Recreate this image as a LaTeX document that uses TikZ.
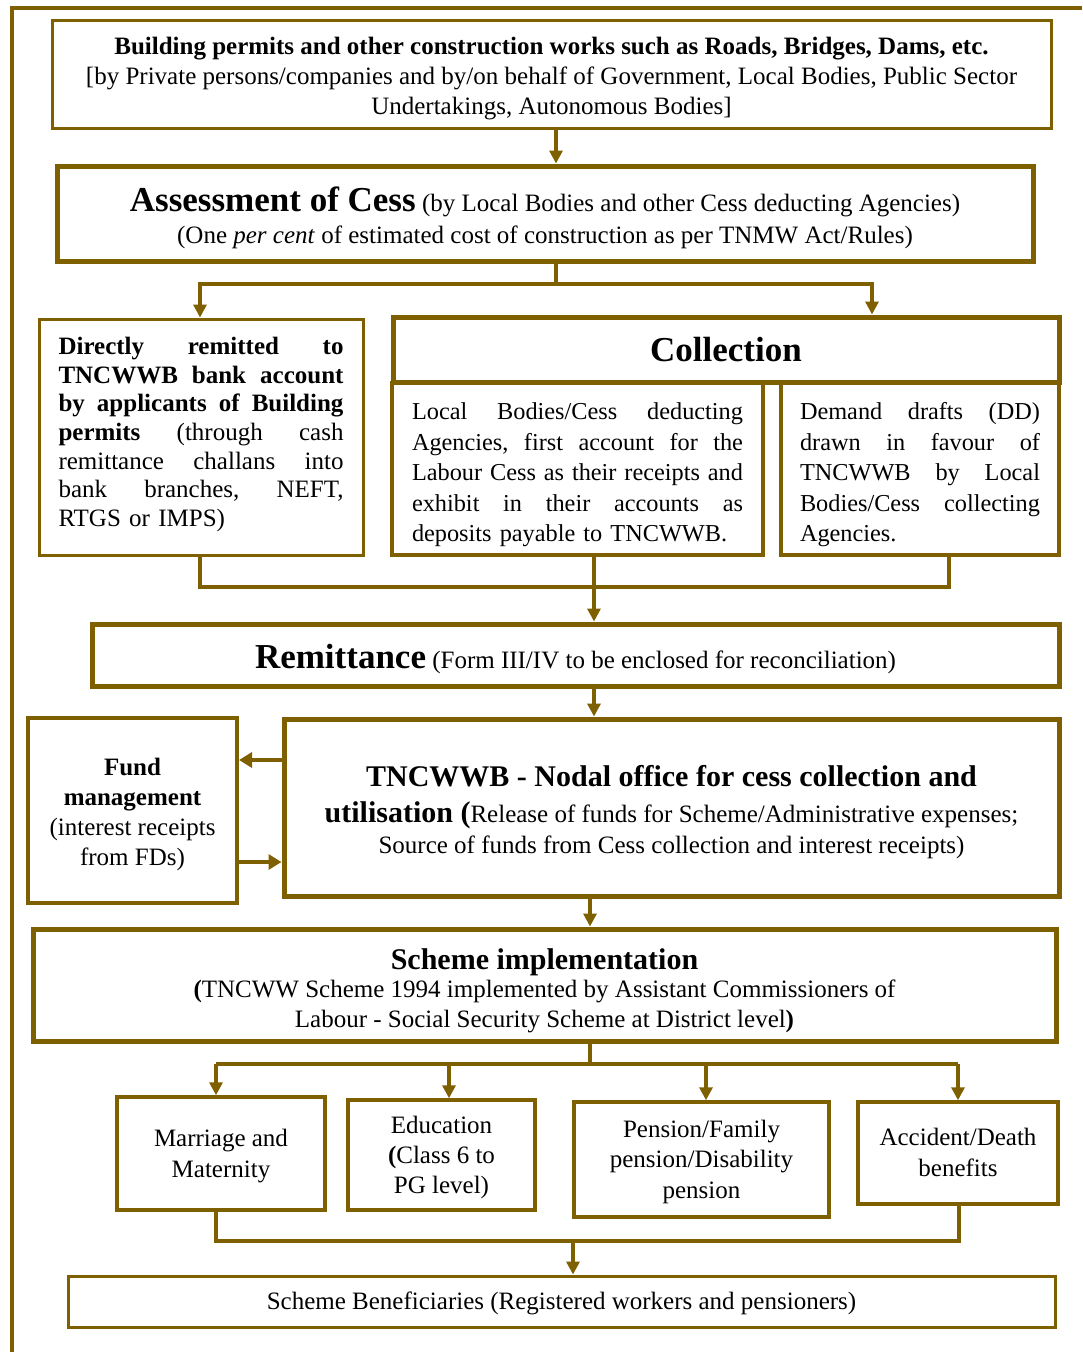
\documentclass[tikz,border=0pt]{standalone}
\usepackage{fontspec}
\setmainfont{Liberation Serif}
\usetikzlibrary{arrows.meta}
\definecolor{fc}{RGB}{127,96,0}
\newcommand{\jl}[2]{\leavevmode\hbox to #1{\frenchspacing\spaceskip=.25em plus 1fil minus .1em\relax #2}}
\tikzset{
  box/.style={draw=fc, fill=white, line width=3.5pt, inner sep=0pt},
  tbox/.style={box, line width=5pt},
  txt/.style={inner sep=0pt, align=center, font=\fontsize{25}{30}\selectfont},
  conn/.style={draw=fc, line width=4pt},
  arr/.style={conn, -{Triangle[width=13pt,length=13pt]}},
  farr/.style={conn, line width=4.5pt, -{Triangle[width=15pt,length=13pt]}},
}
\begin{document}
\begin{tikzpicture}[x=1pt,y=-1pt]
\useasboundingbox[fill=white] (0,0) rectangle (1082,1352);
% outer frame
\draw[conn] (12,1352) -- (12,8) -- (1082,8);

% boxes
\node[box, line width=3pt, minimum width=999pt, minimum height=108pt] (b1) at (551.5,74) {};
\node[txt] (t1) at ([yshift=-5pt]b1.center)
 {{\bfseries Building permits and other construction works such as Roads, Bridges, Dams, etc.}\\
  {[}by Private persons/companies and by/on behalf of Government, Local Bodies, Public Sector\\
  Undertakings, Autonomous Bodies{]}};

\node[tbox, minimum width=976pt, minimum height=95pt] (b2) at (545,213.5) {};
\node[txt, font=\fontsize{25}{32}\selectfont] (t2) at ([yshift=-4.5pt]b2.center)
 {{\fontsize{35}{32}\selectfont\bfseries Assessment of Cess} (by Local Bodies and other Cess deducting Agencies)\\
  (One \textit{per cent} of estimated cost of construction as per TNMW Act/Rules)};

\node[box, line width=3pt, minimum width=324pt, minimum height=236pt] (dir) at (201,437) {};
\node[txt, text width=285pt, align=left, font=\fontsize{25}{28.7}\selectfont] (tdir) at ([yshift=2.5pt]dir.center)
 {\bfseries\jl{285pt}{Directly remitted to}\\
  \jl{285pt}{TNCWWB bank account}\\
  \jl{285pt}{by applicants of Building}\\
  \jl{285pt}{permits \mdseries (through cash}\\
  \mdseries\jl{285pt}{remittance challans into}\\
  \jl{285pt}{bank branches, NEFT,}\\
  RTGS or IMPS)};

\node[tbox, minimum width=666pt, minimum height=65pt] (coll) at (726,349.5) {};
\node[txt, font=\fontsize{35}{36}\selectfont\bfseries] (tcoll) at (coll.center) {Collection};

\node[box, minimum width=371pt, minimum height=172pt] (loc) at (577.5,469) {};
\node[txt, text width=331pt, align=left, font=\fontsize{24.3}{30.5}\selectfont] (tloc) at ([yshift=-6pt]loc.center)
 {\jl{331pt}{Local Bodies/Cess deducting}\\
  \jl{331pt}{Agencies, first account for the}\\
  \jl{331pt}{Labour Cess as their receipts and}\\
  \jl{331pt}{exhibit in their accounts as}\\
  deposits payable to TNCWWB.};

\node[box, minimum width=278pt, minimum height=172pt] (dd) at (920,469) {};
\node[txt, text width=240pt, align=left, font=\fontsize{24.3}{30.5}\selectfont] (tdd) at ([yshift=-6pt]dd.center)
 {\jl{240pt}{Demand drafts (DD)}\\
  \jl{240pt}{drawn in favour of}\\
  \jl{240pt}{TNCWWB by Local}\\
  \jl{240pt}{Bodies/Cess collecting}\\
  Agencies.};

\node[tbox, minimum width=967pt, minimum height=62pt] (rem) at (575.5,655) {};
\node[txt] (trem) at ([yshift=-4pt]rem.center)
 {{\fontsize{35}{32}\selectfont\bfseries Remittance} (Form III/IV to be enclosed for reconciliation)};

\node[box, line width=4pt, minimum width=209pt, minimum height=185pt] (fund) at (132.5,810.5) {};
\node[txt] (tfund) at ([yshift=-3.5pt]fund.center)
 {{\bfseries Fund}\\ {\bfseries management}\\ (interest receipts\\ from FDs)};

\node[tbox, minimum width=775pt, minimum height=177pt] (nod) at (671.5,807.5) {};
\node[txt, font=\fontsize{25}{31}\selectfont] (tnod) at ([yshift=-4.5pt]nod.center)
 {{\fontsize{30}{31}\selectfont\bfseries TNCWWB - Nodal office for cess collection and}\\[5pt]
  {\fontsize{30}{31}\selectfont\bfseries utilisation (}Release of funds for Scheme/Administrative expenses;\\
  Source of funds from Cess collection and interest receipts)};

\node[tbox, minimum width=1023pt, minimum height=112pt] (sch) at (544.5,985) {};
\node[txt] (tsch) at ([yshift=-6pt]sch.center)
 {{\fontsize{30}{30}\selectfont\bfseries Scheme implementation}\\[-2pt]
  {\bfseries(}TNCWW Scheme 1994 implemented by Assistant Commissioners of\\
  Labour - Social Security Scheme at District level{\bfseries)}};

\node[box, minimum width=208pt, minimum height=113pt] (mar) at (221,1153.5) {};
\node[txt, font=\fontsize{25}{31}\selectfont] (tmar) at ([yshift=-2.5pt]mar.center) {Marriage and\\ Maternity};
\node[box, minimum width=187pt, minimum height=110pt] (edu) at (441.5,1155) {};
\node[txt] (tedu) at ([yshift=-2pt]edu.center) {Education\\ {\bfseries(}Class 6 to\\ PG level)};
\node[box, minimum width=255pt, minimum height=115pt] (pen) at (701.5,1159.5) {};
\node[txt, font=\fontsize{25}{30.5}\selectfont] (tpen) at ([yshift=-2pt]pen.center)
 {Pension/Family\\ pension/Disability\\ pension};
\node[box, minimum width=200pt, minimum height=102pt] (acc) at (958,1153) {};
\node[txt, font=\fontsize{25}{31}\selectfont] (tacc) at ([yshift=1pt]acc.center) {Accident/Death\\ benefits};

\node[box, line width=3pt, minimum width=987pt, minimum height=51pt] (ben) at (561.5,1301.5) {};
\node[txt] (tben) at ([yshift=-2pt]ben.center)
 {Scheme Beneficiaries (Registered workers and pensioners)};

% connector coordinates
\coordinate (x556) at (556,284);
\coordinate (x872) at (872,0);
\coordinate (x200) at (200,587);
\coordinate (x594) at (594,587);
\coordinate (x949) at (949,587);
\coordinate (y760) at (0,760);
\coordinate (y862) at (0,862);
\coordinate (x590) at (590,1064);
\coordinate (x216) at (216,1064);
\coordinate (x449) at (449,1064);
\coordinate (x706) at (706,1064);
\coordinate (x958) at (958,1064);
\coordinate (z216) at (216,1241);
\coordinate (z573) at (573,1241);
\coordinate (z959) at (959,1241);

% connectors
\draw[arr] (x556 |- b1.south) -- (x556 |- b2.north);
\draw[conn] (x556 |- b2.south) -- (x556);
\draw[arr] (x556) -| (x200 |- dir.north);
\draw[arr] (x556) -| (x872 |- coll.north);

\draw[conn] (x200 |- dir.south) -- (x200) -- (x949) -- (x949 |- dd.south);
\draw[arr] (x594 |- loc.south) -- (x594 |- rem.north);
\draw[arr] (x594 |- rem.south) -- (x594 |- nod.north);

\draw[farr] (nod.west |- y760) -- (fund.east |- y760);
\draw[farr] (fund.east |- y862) -- (nod.west |- y862);

\draw[arr] (x590 |- nod.south) -- (x590 |- sch.north);
\draw[conn] (x590 |- sch.south) -- (x590);
\draw[conn] (x216) -- (x958);
\draw[arr] (x216) -- (x216 |- mar.north);
\draw[arr] (x449) -- (x449 |- edu.north);
\draw[arr] (x706) -- (x706 |- pen.north);
\draw[arr] (x958) -- (x958 |- acc.north);

\draw[conn] (z216 |- mar.south) -- (z216) -- (z959) -- (z959 |- acc.south);
\draw[arr] (z573) -- (z573 |- ben.north);
\end{tikzpicture}
\end{document}
